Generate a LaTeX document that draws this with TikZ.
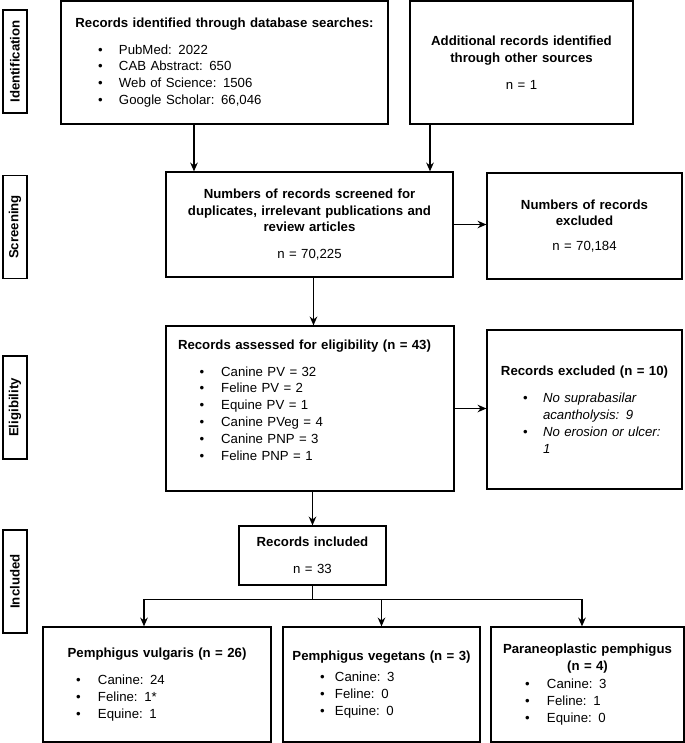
\documentclass[tikz,border=0pt]{standalone}
\usepackage{fontspec}
\setmainfont{Liberation Sans}
\usepackage{tikz}
\usepackage{xcolor}
\usetikzlibrary{shapes.geometric, arrows, arrows.meta}
\tikzstyle{record} = [rectangle, draw=black, line width=0.9pt, inner sep=0pt, align=left]
\tikzstyle{stage} = [rectangle, draw=black, line width=0.9pt, inner sep=0pt, rotate=90, minimum width=2.575cm, minimum height=0.6cm, font=\bfseries]
\tikzstyle{arrow} = [line width=0.9pt,->,>={Stealth[length=2.2mm,width=1.9mm]}]
\newcommand{\bul}[3]{\hspace*{#1}\makebox[#2][l]{\textbullet}#3}
\newcommand{\headline}[1]{\makebox[\linewidth]{\bfseries #1}}

\begin{document}
\fontsize{9.4}{12}\selectfont
\begin{tikzpicture}
    \useasboundingbox (0,0) rectangle (17.125,-18.575);
        \node (identification) [stage] at (0.375,-1.5375) {Identification};
        \node (screening) [stage] at (0.375,-5.675) {Screening};
        \node (eligibility) [stage] at (0.375,-10.1875) {Eligibility};
        \node (included_stage) [stage] at (0.375,-14.5375) {Included};
        \node (db_search) [record, text width=8.175cm, minimum height=3.075cm] at (5.6125,-1.5625)
        {\headline{Records identified through database searches:}\\[0.25cm]
        \bul{0.925cm}{0.525cm}{PubMed: 2022}\\
        \bul{0.925cm}{0.525cm}{CAB Abstract: 650}\\
        \bul{0.925cm}{0.525cm}{Web of Science: 1506}\\
        \bul{0.925cm}{0.525cm}{Google Scholar: 66,046}};
        \node (other_sources) [record, text width=5.575cm, minimum height=3.075cm] at (13.0375,-1.5625)
        {\headline{Additional records identified}\\
        \headline{through other sources}\\[0.25cm]
        \makebox[\linewidth]{n = 1}};
        \node (screened) [record, text width=7.175cm, minimum height=2.625cm] at (7.7375,-5.6125)
        {\headline{Numbers of records screened for}\\
        \headline{duplicates, irrelevant publications and}\\
        \headline{review articles}\\[0.25cm]
        \makebox[\linewidth]{n = 70,225}};
        \node (excluded_dup) [record, text width=4.875cm, minimum height=2.65cm] at (14.6125,-5.65)
        {\headline{Numbers of records}\\
        \headline{excluded}\\[0.2cm]
        \makebox[\linewidth]{n = 70,184}};
        \node (assessed) [record, text width=7.2cm, minimum height=4.125cm] at (7.75,-10.2125)
        {\hspace*{0.3cm}\textbf{Records assessed for eligibility (n = 43)}\\[0.25cm]
        \bul{0.84cm}{0.54cm}{Canine PV = 32}\\
        \bul{0.84cm}{0.54cm}{Feline PV = 2}\\
        \bul{0.84cm}{0.54cm}{Equine PV = 1}\\
        \bul{0.84cm}{0.54cm}{Canine PVeg = 4}\\
        \bul{0.84cm}{0.54cm}{Canine PNP = 3}\\
        \bul{0.84cm}{0.54cm}{Feline PNP = 1}\\
        \mbox{}};
        \node (excluded_elig) [record, text width=4.875cm, minimum height=3.975cm] at (14.6125,-10.2375)
        {\headline{Records excluded (n = 10)}\\[0.25cm]
        \bul{0.9cm}{0.5cm}{\textit{No suprabasilar}}\\
        \hspace*{1.4cm}\textit{acantholysis: 9}\\
        \bul{0.9cm}{0.5cm}{\textit{No erosion or ulcer:}}\\
        \hspace*{1.4cm}\textit{1}};
        \node (included) [record, text width=3.675cm, minimum height=1.475cm] at (7.8125,-13.8875)
        {\headline{Records included}\\[0.25cm]
        \makebox[\linewidth]{n = 33}};
        \node (pv) [record, text width=5.7cm, minimum height=2.875cm] at (3.925,-17.1125)
        {\headline{Pemphigus vulgaris (n = 26)}\\[0.25cm]
        \bul{0.825cm}{0.55cm}{Canine: 24}\\
        \bul{0.825cm}{0.55cm}{Feline: 1*}\\
        \bul{0.825cm}{0.55cm}{Equine: 1}};
        \node (pveg) [record, text width=4.925cm, minimum height=2.875cm] at (9.5375,-17.1125)
        {\headline{Pemphigus vegetans (n = 3)}\\[0.1cm]
        \bul{0.925cm}{0.375cm}{Canine: 3}\\
        \bul{0.925cm}{0.375cm}{Feline: 0}\\
        \bul{0.925cm}{0.375cm}{Equine: 0}};
        \node (pnp) [record, text width=4.825cm, minimum height=2.875cm] at (14.6875,-17.1125)
        {\headline{Paraneoplastic pemphigus}\\
        \headline{(n = 4)}\\[0.05cm]
        \bul{0.85cm}{0.55cm}{Canine: 3}\\
        \bul{0.85cm}{0.55cm}{Feline: 1}\\
        \bul{0.85cm}{0.55cm}{Equine: 0}};
        \coordinate (split) at ([yshift=-0.35cm]included.south);

        \draw [arrow] ([xshift=-0.7625cm]db_search.south) -- ([xshift=-0.7625cm]db_search.south |- screened.north);
        \draw [arrow] ([xshift=-2.2875cm]other_sources.south) -- ([xshift=-2.2875cm]other_sources.south |- screened.north);
        \draw [arrow] (screened.east) -- (screened.east -| excluded_dup.west);
        \draw [arrow] ([xshift=0.1cm]screened.south) -- ([xshift=0.1cm]screened.south |- assessed.north);
        \draw [arrow] (assessed.east) -- (assessed.east -| excluded_elig.west);
        \draw [arrow] (included.north |- assessed.south) -- (included.north);
        \draw [line width=0.9pt] (included.south) -- (split);
        \draw [arrow] (split) -| ([xshift=-0.325cm]pv.north);
        \draw [arrow] (split) -| (pveg.north);
        \draw [arrow] (split) -| ([xshift=-0.1375cm]pnp.north);

    \end{tikzpicture}
\end{document}
